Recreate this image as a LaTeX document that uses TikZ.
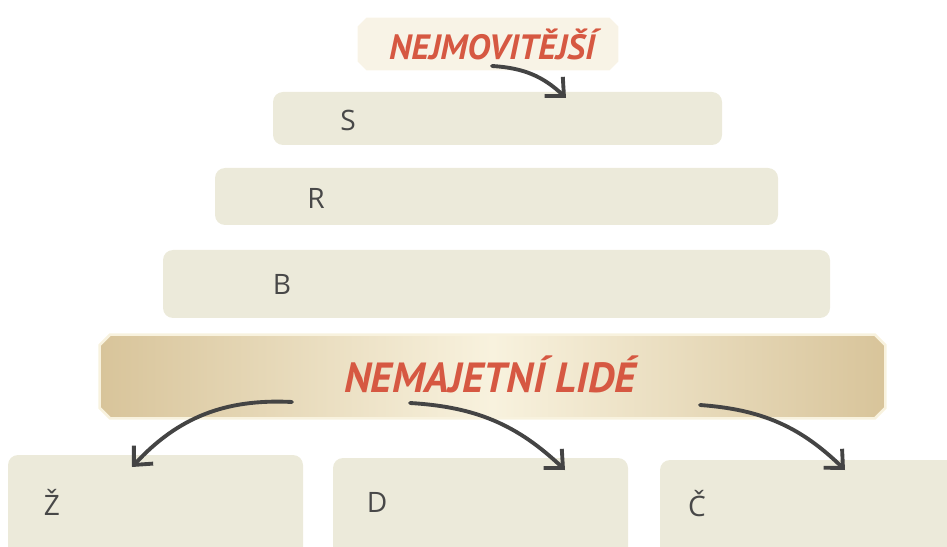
\documentclass[tikz,border=0pt]{standalone}
\usepackage{fontspec}
\setmainfont{Open Sans}
\newfontfamily\headfont{PT Sans}
\usetikzlibrary{arrows.meta,calc}
\definecolor{boxfill}{RGB}{236,234,218}
\definecolor{titlered}{RGB}{214,88,66}
\definecolor{labelgrey}{RGB}{72,72,72}
\definecolor{arrowgrey}{RGB}{68,68,68}
\definecolor{woodedge}{RGB}{216,196,154}
\definecolor{woodmid}{RGB}{248,242,222}
\definecolor{paletitle}{RGB}{248,243,230}
\newcommand{\pxu}{0.02cm}
\newcommand{\chamferpath}[2]{([xshift=#2]#1.north west) -- ([xshift=-#2]#1.north east) -- ([yshift=-#2]#1.north east) -- ([yshift=#2]#1.south east) -- ([xshift=-#2]#1.south east) -- ([xshift=#2]#1.south west) -- ([yshift=#2]#1.south west) -- ([yshift=-#2]#1.north west) -- cycle}
\tikzset{
    field/.style={rectangle,rounded corners=0.2cm,fill=boxfill,inner sep=0pt},
    plate/.style={rectangle,inner sep=0pt},
    lbl/.style={text=labelgrey,font=\fontsize{16}{18}\selectfont},
    head/.style={text=titlered,font=\headfont\bfseries\itshape},
    arr/.style={draw=arrowgrey,line width=2.2pt,line cap=round,-{Straight Barb[length=8pt,width=15pt]}}
}
\begin{document}
\begin{tikzpicture}[x=0.02cm,y=-0.02cm]
    \useasboundingbox (0,0) rectangle (947,547);
    \node[plate,minimum width=260*\pxu,minimum height=52*\pxu] (title) at (488,44) {};
    \fill[paletitle] \chamferpath{title}{5pt};
    \node[head,font=\headfont\fontsize{20}{22}\selectfont\bfseries\itshape] (titletext) at (492,44) {NEJMOVITĚJŠÍ};
    \node[field,minimum width=449*\pxu,minimum height=53*\pxu] (boxS) at (497.5,118.5) {};
    \node[field,minimum width=563*\pxu,minimum height=57*\pxu] (boxR) at (496.5,196.5) {};
    \node[field,minimum width=667*\pxu,minimum height=68*\pxu] (boxB) at (496.5,284) {};
    \node[plate,minimum width=785*\pxu,minimum height=83*\pxu] (banner) at (492.5,376.5) {};
    \shade[left color=woodedge,right color=woodedge,middle color=woodmid] \chamferpath{banner}{6pt};
    \draw[woodmid,line width=1.5pt] \chamferpath{banner}{6pt};
    \node[head,font=\headfont\fontsize{24}{26}\selectfont\bfseries\itshape] (bannertext) at (490,374) {NEMAJETNÍ LIDÉ};
    \node[field,minimum width=295*\pxu,minimum height=105*\pxu] (boxZ) at (155.5,507.5) {};
    \node[field,minimum width=295*\pxu,minimum height=102*\pxu] (boxD) at (480.5,509) {};
    \node[field,minimum width=300*\pxu,minimum height=100*\pxu] (boxC) at (810,510) {};
    \node[lbl] (lS) at (348,120) {S};
    \node[lbl] (lR) at (316,198) {R};
    \node[lbl] (lB) at (282,284) {B};
    \node[lbl] (lZ) at (52,502) {Ž};
    \node[lbl] (lD) at (377,502) {D};
    \node[lbl] (lC) at (697,504) {Č};
    \coordinate (fromTitle) at (492,66);
    \coordinate (toS) at (566,98);
    \coordinate (fromBan1) at (292,402);
    \coordinate (toZ) at (132,467);
    \coordinate (fromBan2) at (410,403);
    \coordinate (toD) at (565,470);
    \coordinate (fromBan3) at (700,405);
    \coordinate (toC) at (845,470);
    \draw[arr] (fromTitle) to[bend left=20] (toS);
    \draw[arr] (fromBan1) to[bend right=25] (toZ);
    \draw[arr] (fromBan2) to[bend left=20] (toD);
    \draw[arr] (fromBan3) to[bend left=20] (toC);
\end{tikzpicture}
\end{document}
